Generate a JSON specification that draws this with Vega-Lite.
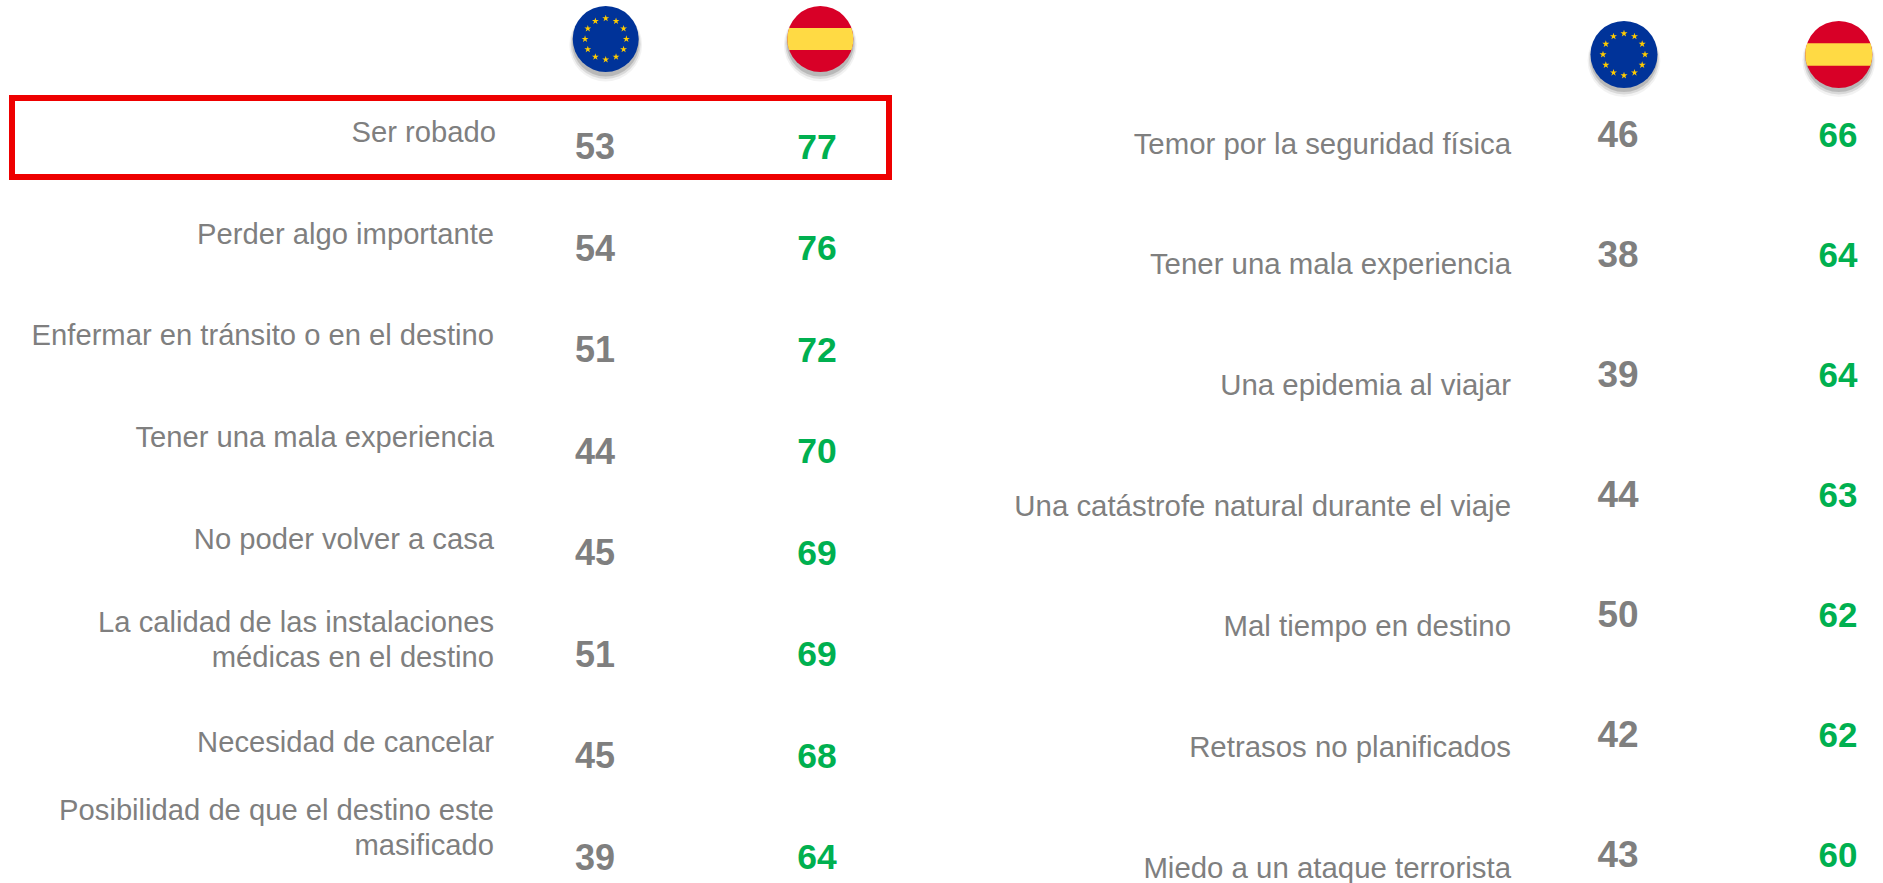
{
"$schema":"https://vega.github.io/schema/vega-lite/v6.json",
"width":1883,"height":883,"padding":0,
"autosize":{"type":"fit","contains":"padding"},
"background":"white",
"config":{"view":{"stroke":null}},
"datasets":{
"izquierda":[
{"orden":1,"concepto":"Ser robado","UE":53,"España":77},
{"orden":2,"concepto":"Perder algo importante","UE":54,"España":76},
{"orden":3,"concepto":"Enfermar en tránsito o en el destino","UE":51,"España":72},
{"orden":4,"concepto":"Tener una mala experiencia","UE":44,"España":70},
{"orden":5,"concepto":"No poder volver a casa","UE":45,"España":69},
{"orden":6,"concepto":"La calidad de las instalaciones\nmédicas en el destino","UE":51,"España":69},
{"orden":7,"concepto":"Necesidad de cancelar","UE":45,"España":68},
{"orden":8,"concepto":"Posibilidad de que el destino este\nmasificado","UE":39,"España":64}
],
"derecha":[
{"orden":1,"concepto":"Temor por la seguridad física","UE":46,"España":66},
{"orden":2,"concepto":"Tener una mala experiencia","UE":38,"España":64},
{"orden":3,"concepto":"Una epidemia al viajar","UE":39,"España":64},
{"orden":4,"concepto":"Una catástrofe natural durante el viaje","UE":44,"España":63},
{"orden":5,"concepto":"Mal tiempo en destino","UE":50,"España":62},
{"orden":6,"concepto":"Retrasos no planificados","UE":42,"España":62},
{"orden":7,"concepto":"Miedo a un ataque terrorista","UE":43,"España":60}
],
"banderas":[{"bandera":"UE"},{"bandera":"España"}]
},
"resolve":{"scale":{"x":"independent","y":"independent"}},
"layer":[
{"data":{"name":"izquierda"},"transform":[{"filter":"datum.orden==1"}],
 "mark":{"type":"rect","fill":null,"stroke":"#EE0000","strokeWidth":6,"clip":false},
 "encoding":{
  "x":{"field":"concepto","type":"nominal","axis":null,"scale":{"type":"band","domain":["Ser robado"],"range":[12,889],"paddingInner":0,"paddingOuter":0}},
  "y":{"field":"concepto","type":"nominal","axis":null,"scale":{"type":"band","domain":["Ser robado"],"range":[98,177],"paddingInner":0,"paddingOuter":0}}
 }},
{"data":{"name":"izquierda"},"transform":[{"filter":"datum.orden==1"}],
 "mark":{"type":"text","align":"right","baseline":"middle","font":"Liberation Sans","fontSize":29.2,"color":"#7F7F7F"},
 "encoding":{
  "x":{"datum":"Concepto","type":"nominal","axis":null,"scale":{"type":"point","domain":["Concepto"],"range":[496,496],"padding":0}},
  "y":{"datum":"Concepto","type":"nominal","axis":null,"scale":{"type":"point","domain":["Concepto"],"range":[133,133],"padding":0}},
  "text":{"field":"concepto"}
 }},
{"data":{"name":"izquierda"},"transform":[{"filter":"datum.orden>1"}],
 "mark":{"type":"text","align":"right","baseline":"middle","font":"Liberation Sans","fontSize":29.2,"color":"#7F7F7F","lineBreak":"\n","lineHeight":35.4},
 "encoding":{
  "x":{"datum":"Concepto","type":"nominal","axis":null,"scale":{"type":"point","domain":["Concepto"],"range":[494,494],"padding":0}},
  "y":{"field":"orden","type":"quantitative","axis":null,"scale":{"domain":[2,5,6,7,8],"range":[234.5,539.5,623,742.5,811],"nice":false,"zero":false}},
  "text":{"field":"concepto"}
 }},
{"data":{"name":"izquierda"},
 "mark":{"type":"text","align":"center","baseline":"middle","font":"Liberation Sans","fontSize":36,"fontWeight":"bold","color":"#7F7F7F"},
 "encoding":{
  "x":{"datum":"UE","type":"nominal","axis":null,"scale":{"type":"point","domain":["UE","España"],"range":[595,817],"padding":0}},
  "y":{"field":"orden","type":"quantitative","axis":null,"scale":{"domain":[1,8],"range":[148,859],"nice":false,"zero":false}},
  "text":{"field":"UE","type":"quantitative"}
 }},
{"data":{"name":"izquierda"},
 "mark":{"type":"text","align":"center","baseline":"middle","font":"Liberation Sans","fontSize":35.5,"fontWeight":"bold","color":"#00B050"},
 "encoding":{
  "x":{"datum":"España","type":"nominal","axis":null,"scale":{"type":"point","domain":["UE","España"],"range":[595,817],"padding":0}},
  "y":{"field":"orden","type":"quantitative","axis":null,"scale":{"domain":[1,8],"range":[147.5,858],"nice":false,"zero":false}},
  "text":{"field":"España","type":"quantitative"}
 }},
{"data":{"name":"derecha"},
 "mark":{"type":"text","align":"right","baseline":"middle","font":"Liberation Sans","fontSize":29.4,"color":"#7F7F7F"},
 "encoding":{
  "x":{"datum":"Concepto","type":"nominal","axis":null,"scale":{"type":"point","domain":["Concepto"],"range":[1511,1511],"padding":0}},
  "y":{"field":"orden","type":"quantitative","axis":null,"scale":{"domain":[1,7],"range":[144.5,868.5],"nice":false,"zero":false}},
  "text":{"field":"concepto"}
 }},
{"data":{"name":"derecha"},
 "mark":{"type":"text","align":"center","baseline":"middle","font":"Liberation Sans","fontSize":37,"fontWeight":"bold","color":"#7F7F7F"},
 "encoding":{
  "x":{"datum":"UE","type":"nominal","axis":null,"scale":{"type":"point","domain":["UE","España"],"range":[1618,1838],"padding":0}},
  "y":{"field":"orden","type":"quantitative","axis":null,"scale":{"domain":[1,7],"range":[136,856],"nice":false,"zero":false}},
  "text":{"field":"UE","type":"quantitative"}
 }},
{"data":{"name":"derecha"},
 "mark":{"type":"text","align":"center","baseline":"middle","font":"Liberation Sans","fontSize":35,"fontWeight":"bold","color":"#00B050"},
 "encoding":{
  "x":{"datum":"España","type":"nominal","axis":null,"scale":{"type":"point","domain":["UE","España"],"range":[1618,1838],"padding":0}},
  "y":{"field":"orden","type":"quantitative","axis":null,"scale":{"domain":[1,7],"range":[136,856],"nice":false,"zero":false}},
  "text":{"field":"España","type":"quantitative"}
 }},
{"data":{"name":"banderas"},
 "encoding":{
  "x":{"field":"bandera","type":"nominal","axis":null,"scale":{"type":"point","domain":["UE","España"],"range":[605.7,820.3],"padding":0}},
  "y":{"datum":"fila","type":"nominal","axis":null,"scale":{"type":"point","domain":["fila"],"range":[39,39],"padding":0}}
 },
 "layer":[
  {"mark":{"type":"point","shape":"circle","filled":true,"size":5300,"color":"#000000","opacity":0.05,"yOffset":6}},
  {"mark":{"type":"point","shape":"circle","filled":true,"size":4900,"color":"#000000","opacity":0.1,"yOffset":5}},
  {"mark":{"type":"point","shape":"circle","filled":true,"size":4500,"color":"#000000","opacity":0.15,"yOffset":4}},
  {"transform":[{"filter":"datum.bandera=='UE'"}],"mark":{"type":"point","shape":"circle","filled":true,"size":4356,"color":"#003399","opacity":1}},
  {"transform":[{"filter":"datum.bandera=='UE'"}],"mark":{"type":"point","filled":true,"size":17424,"color":"#FFCC00","opacity":1,"shape":"M0,-.368l.0123,.038l.04,0l-.0323,.0235l.0123,.038l-.0323,-.0235l-.0323,.0235l.0123,-.038l-.0323,-.0235l.04,0zM.1565,-.326l.0123,.038l.04,0l-.0323,.0235l.0123,.038l-.0323,-.0235l-.0323,.0235l.0123,-.038l-.0323,-.0235l.04,0zM.271,-.2115l.0123,.038l.04,0l-.0323,.0235l.0123,.038l-.0323,-.0235l-.0323,.0235l.0123,-.038l-.0323,-.0235l.04,0zM.313,-.055l.0123,.038l.04,0l-.0323,.0235l.0123,.038l-.0323,-.0235l-.0323,.0235l.0123,-.038l-.0323,-.0235l.04,0zM.271,.1015l.0123,.038l.04,0l-.0323,.0235l.0123,.038l-.0323,-.0235l-.0323,.0235l.0123,-.038l-.0323,-.0235l.04,0zM.1565,.216l.0123,.038l.04,0l-.0323,.0235l.0123,.038l-.0323,-.0235l-.0323,.0235l.0123,-.038l-.0323,-.0235l.04,0zM0,.258l.0123,.038l.04,0l-.0323,.0235l.0123,.038l-.0323,-.0235l-.0323,.0235l.0123,-.038l-.0323,-.0235l.04,0zM-.1565,.216l.0123,.038l.04,0l-.0323,.0235l.0123,.038l-.0323,-.0235l-.0323,.0235l.0123,-.038l-.0323,-.0235l.04,0zM-.271,.1015l.0123,.038l.04,0l-.0323,.0235l.0123,.038l-.0323,-.0235l-.0323,.0235l.0123,-.038l-.0323,-.0235l.04,0zM-.313,-.055l.0123,.038l.04,0l-.0323,.0235l.0123,.038l-.0323,-.0235l-.0323,.0235l.0123,-.038l-.0323,-.0235l.04,0zM-.271,-.2115l.0123,.038l.04,0l-.0323,.0235l.0123,.038l-.0323,-.0235l-.0323,.0235l.0123,-.038l-.0323,-.0235l.04,0zM-.1565,-.326l.0123,.038l.04,0l-.0323,.0235l.0123,.038l-.0323,-.0235l-.0323,.0235l.0123,-.038l-.0323,-.0235l.04,0z"}},
  {"transform":[{"filter":"datum.bandera=='España'"}],"mark":{"type":"point","shape":"circle","filled":true,"size":4356,"color":"#D80027","opacity":1}},
  {"transform":[{"filter":"datum.bandera=='España'"}],"mark":{"type":"point","filled":true,"size":17424,"color":"#FFDA44","opacity":1,"shape":"M-.4714,-.1667L.4714,-.1667L.4846,-.1231L.4961,-.0625L.5,0L.4961,.0625L.4846,.1231L.4714,.1667L-.4714,.1667L-.4846,.1231L-.4961,.0625L-.5,0L-.4961,-.0625L-.4846,-.1231Z"}}
 ]},
{"data":{"name":"banderas"},
 "encoding":{
  "x":{"field":"bandera","type":"nominal","axis":null,"scale":{"type":"point","domain":["UE","España"],"range":[1624,1838.8],"padding":0}},
  "y":{"datum":"fila","type":"nominal","axis":null,"scale":{"type":"point","domain":["fila"],"range":[54.5,54.5],"padding":0}}
 },
 "layer":[
  {"mark":{"type":"point","shape":"circle","filled":true,"size":5300,"color":"#000000","opacity":0.05,"yOffset":6}},
  {"mark":{"type":"point","shape":"circle","filled":true,"size":4900,"color":"#000000","opacity":0.1,"yOffset":5}},
  {"mark":{"type":"point","shape":"circle","filled":true,"size":4500,"color":"#000000","opacity":0.15,"yOffset":4}},
  {"transform":[{"filter":"datum.bandera=='UE'"}],"mark":{"type":"point","shape":"circle","filled":true,"size":4500,"color":"#003399","opacity":1}},
  {"transform":[{"filter":"datum.bandera=='UE'"}],"mark":{"type":"point","filled":true,"size":18000,"color":"#FFCC00","opacity":1,"shape":"M0,-.368l.0123,.038l.04,0l-.0323,.0235l.0123,.038l-.0323,-.0235l-.0323,.0235l.0123,-.038l-.0323,-.0235l.04,0zM.1565,-.326l.0123,.038l.04,0l-.0323,.0235l.0123,.038l-.0323,-.0235l-.0323,.0235l.0123,-.038l-.0323,-.0235l.04,0zM.271,-.2115l.0123,.038l.04,0l-.0323,.0235l.0123,.038l-.0323,-.0235l-.0323,.0235l.0123,-.038l-.0323,-.0235l.04,0zM.313,-.055l.0123,.038l.04,0l-.0323,.0235l.0123,.038l-.0323,-.0235l-.0323,.0235l.0123,-.038l-.0323,-.0235l.04,0zM.271,.1015l.0123,.038l.04,0l-.0323,.0235l.0123,.038l-.0323,-.0235l-.0323,.0235l.0123,-.038l-.0323,-.0235l.04,0zM.1565,.216l.0123,.038l.04,0l-.0323,.0235l.0123,.038l-.0323,-.0235l-.0323,.0235l.0123,-.038l-.0323,-.0235l.04,0zM0,.258l.0123,.038l.04,0l-.0323,.0235l.0123,.038l-.0323,-.0235l-.0323,.0235l.0123,-.038l-.0323,-.0235l.04,0zM-.1565,.216l.0123,.038l.04,0l-.0323,.0235l.0123,.038l-.0323,-.0235l-.0323,.0235l.0123,-.038l-.0323,-.0235l.04,0zM-.271,.1015l.0123,.038l.04,0l-.0323,.0235l.0123,.038l-.0323,-.0235l-.0323,.0235l.0123,-.038l-.0323,-.0235l.04,0zM-.313,-.055l.0123,.038l.04,0l-.0323,.0235l.0123,.038l-.0323,-.0235l-.0323,.0235l.0123,-.038l-.0323,-.0235l.04,0zM-.271,-.2115l.0123,.038l.04,0l-.0323,.0235l.0123,.038l-.0323,-.0235l-.0323,.0235l.0123,-.038l-.0323,-.0235l.04,0zM-.1565,-.326l.0123,.038l.04,0l-.0323,.0235l.0123,.038l-.0323,-.0235l-.0323,.0235l.0123,-.038l-.0323,-.0235l.04,0z"}},
  {"transform":[{"filter":"datum.bandera=='España'"}],"mark":{"type":"point","shape":"circle","filled":true,"size":4500,"color":"#D80027","opacity":1}},
  {"transform":[{"filter":"datum.bandera=='España'"}],"mark":{"type":"point","filled":true,"size":18000,"color":"#FFDA44","opacity":1,"shape":"M-.4714,-.1667L.4714,-.1667L.4846,-.1231L.4961,-.0625L.5,0L.4961,.0625L.4846,.1231L.4714,.1667L-.4714,.1667L-.4846,.1231L-.4961,.0625L-.5,0L-.4961,-.0625L-.4846,-.1231Z"}}
 ]}
]}
